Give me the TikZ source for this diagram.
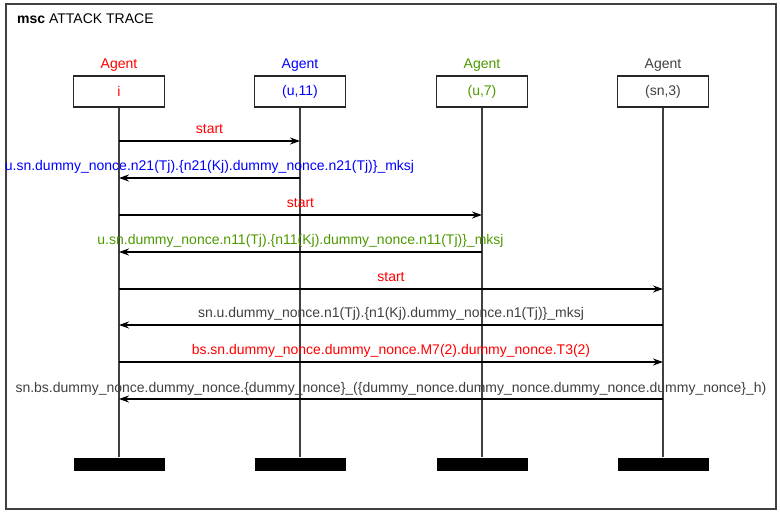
\documentclass[tikz,border=0pt]{standalone}
\usepackage{fontspec}
\setmainfont{Liberation Sans}
\usetikzlibrary{arrows.meta}

\definecolor{agentred}{RGB}{255,0,0}
\definecolor{agentblue}{RGB}{0,0,255}
\definecolor{agentgreen}{RGB}{76,153,0}
\definecolor{agentgray}{RGB}{64,64,64}

\tikzset{
  agentbox/.style={draw=black!85, line width=1.2pt, minimum width=91pt, minimum height=31pt, inner sep=0pt},
  endbar/.style={fill=black, minimum width=91pt, minimum height=13pt, inner sep=0pt},
  lifeline/.style={draw=black!75, line width=1.4pt},
  msg/.style={line width=1.2pt, -{Stealth[length=10pt,width=7pt,inset=3.5pt]}},
  msglabel/.style={midway, anchor=base, yshift=7pt, inner sep=0pt}
}

\begin{document}
\begin{tikzpicture}[x=1pt, y=-1pt, font=\fontsize{14}{16}\selectfont]
    \useasboundingbox (0,0) rectangle (780,513);
    \draw[agentgray, line width=1.5pt] (6,4) rectangle (776,509);
    \node[anchor=base west, inner sep=0pt] (title) at (17,24) {\textbf{msc} ATTACK TRACE};

    % instances
    \node[agentbox, text=agentred, label={[text=agentred, label distance=0pt]above:Agent}] (i) at (119,91.5) {i};
    \node[agentbox, text=agentblue, label={[text=agentblue, label distance=0pt]above:Agent}] (u11) at (300,91.5) {(u,11)};
    \node[agentbox, text=agentgreen, label={[text=agentgreen, label distance=0pt]above:Agent}] (u7) at (482,91.5) {(u,7)};
    \node[agentbox, text=agentgray, label={[text=agentgray, label distance=0pt]above:Agent}] (sn3) at (663,91.5) {(sn,3)};

    % ends
    \node[endbar] (iend) at (119,464) {};
    \node[endbar] (u11end) at (300,464) {};
    \node[endbar] (u7end) at (482,464) {};
    \node[endbar] (sn3end) at (663,464) {};

    \draw[lifeline] (i) -- (iend);
    \draw[lifeline] (u11) -- (u11end);
    \draw[lifeline] (u7) -- (u7end);
    \draw[lifeline] (sn3) -- (sn3end);

    % messages
    \draw[msg] (i |- 0,141) -- (u11 |- 0,141)
        node[msglabel, text=agentred] {start};
    \draw[msg] (u11 |- 0,178) -- (i |- 0,178)
        node[msglabel, text=agentblue] {u.sn.dummy\_nonce.n21(Tj).\{n21(Kj).dummy\_nonce.n21(Tj)\}\_mksj};
    \draw[msg] (i |- 0,215) -- (u7 |- 0,215)
        node[msglabel, text=agentred] {start};
    \draw[msg] (u7 |- 0,252) -- (i |- 0,252)
        node[msglabel, text=agentgreen] {u.sn.dummy\_nonce.n11(Tj).\{n11(Kj).dummy\_nonce.n11(Tj)\}\_mksj};
    \draw[msg] (i |- 0,289) -- (sn3 |- 0,289)
        node[msglabel, text=agentred] {start};
    \draw[msg] (sn3 |- 0,325) -- (i |- 0,325)
        node[msglabel, text=agentgray] {sn.u.dummy\_nonce.n1(Tj).\{n1(Kj).dummy\_nonce.n1(Tj)\}\_mksj};
    \draw[msg] (i |- 0,362) -- (sn3 |- 0,362)
        node[msglabel, text=agentred] {bs.sn.dummy\_nonce.dummy\_nonce.M7(2).dummy\_nonce.T3(2)};
    \draw[msg] (sn3 |- 0,399) -- (i |- 0,399)
        node[msglabel, text=agentgray] {sn.bs.dummy\_nonce.dummy\_nonce.\{dummy\_nonce\}\_(\{dummy\_nonce.dummy\_nonce.dummy\_nonce.dummy\_nonce\}\_h)};
\end{tikzpicture}
\end{document}
